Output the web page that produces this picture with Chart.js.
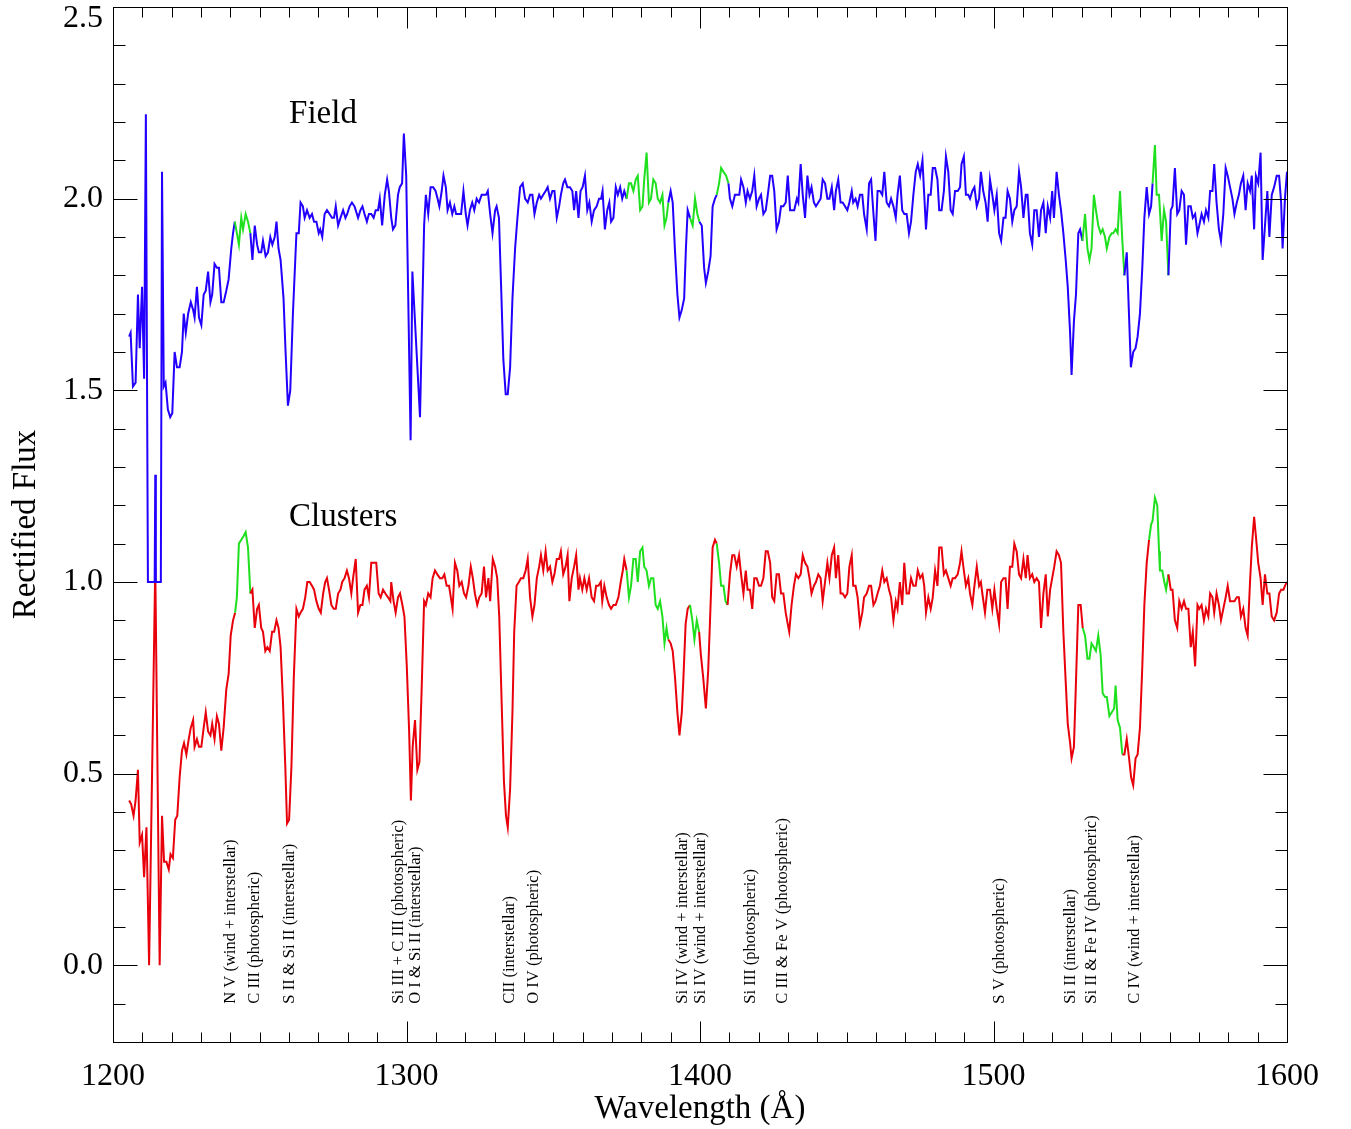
<!DOCTYPE html>
<html>
<head>
<meta charset="utf-8">
<title>Rectified Flux</title>
<script src="https://cdn.jsdelivr.net/npm/chart.js@4.4.1/dist/chart.umd.min.js"></script>
<style>
  body { margin: 0; background: #fff; }
  #wrap { width: 1351px; height: 1129px; }
</style>
</head>
<body>
<div id="wrap"><canvas id="spectrum"></canvas></div>
<script>
// Field spectrum (wavelength in Å, rectified flux)
const fieldWave = [
  1205.5, 1206.0, 1206.8, 1207.7, 1208.5, 1209.1, 1209.9, 1210.6, 1211.2, 1211.9,
  1214.2, 1214.4, 1214.6, 1216.3, 1216.7, 1217.3, 1217.9, 1218.7, 1219.5, 1220.2,
  1221.0, 1221.8, 1222.7, 1223.5, 1224.1, 1224.8, 1225.6, 1226.5, 1227.3, 1227.8,
  1228.6, 1229.3, 1230.1, 1230.9, 1231.6, 1232.4, 1233.2, 1233.8, 1234.6, 1235.4,
  1236.1, 1236.9, 1237.7, 1238.6, 1239.4, 1240.3, 1240.9, 1241.5, 1242.2, 1242.9,
  1243.7, 1244.3, 1245.2, 1246.0, 1246.8, 1247.5, 1248.3, 1249.1, 1249.7, 1250.5,
  1251.1, 1252.0, 1252.8, 1253.6, 1254.3, 1255.1, 1255.7, 1256.4, 1257.1, 1258.1,
  1258.8, 1259.6, 1260.4, 1261.3, 1262.5, 1263.3, 1263.9, 1264.7, 1265.3, 1266.1,
  1267.0, 1267.8, 1268.5, 1269.3, 1270.1, 1270.6, 1271.3, 1272.1, 1272.9, 1273.8,
  1274.6, 1275.3, 1275.9, 1276.7, 1277.5, 1278.4, 1279.2, 1279.8, 1280.6, 1281.4,
  1282.3, 1283.5, 1284.3, 1285.0, 1285.7, 1286.5, 1287.2, 1288.0, 1288.8, 1289.5,
  1290.3, 1290.9, 1291.7, 1292.6, 1293.4, 1294.0, 1294.8, 1295.4, 1296.2, 1297.1,
  1297.7, 1298.5, 1299.1, 1299.9, 1301.4, 1302.0, 1304.6, 1306.0, 1306.6, 1307.4,
  1308.2, 1309.1, 1309.9, 1310.6, 1311.2, 1312.0, 1312.6, 1313.4, 1314.0, 1314.8,
  1315.6, 1316.3, 1316.9, 1317.7, 1318.6, 1319.4, 1320.2, 1320.8, 1321.6, 1322.4,
  1323.1, 1323.9, 1324.7, 1325.6, 1326.4, 1327.1, 1327.7, 1328.5, 1329.3, 1330.2,
  1330.7, 1331.5, 1332.2, 1333.0, 1333.8, 1334.5, 1335.3, 1336.1, 1337.0, 1337.8,
  1338.7, 1339.6, 1340.4, 1341.3, 1342.1, 1342.9, 1343.6, 1344.4, 1345.2, 1345.8,
  1346.6, 1347.4, 1348.1, 1348.9, 1349.7, 1350.4, 1351.2, 1352.0, 1352.6, 1353.4,
  1354.0, 1354.8, 1355.7, 1356.5, 1357.1, 1357.8, 1358.6, 1359.3, 1360.0, 1360.8,
  1361.6, 1362.3, 1363.1, 1363.9, 1364.8, 1365.6, 1366.3, 1366.8, 1367.6, 1368.4,
  1369.1, 1369.7, 1370.5, 1371.3, 1372.0, 1372.8, 1373.5, 1374.2, 1375.0, 1375.8,
  1376.5, 1377.3, 1378.1, 1378.8, 1379.6, 1380.4, 1381.0, 1381.8, 1382.6, 1383.3,
  1384.1, 1384.9, 1385.6, 1386.4, 1387.2, 1387.9, 1388.6, 1389.2, 1390.0, 1390.7,
  1391.5, 1392.3, 1393.0, 1393.8, 1394.6, 1395.2, 1395.8, 1396.6, 1397.5, 1398.3,
  1399.1, 1399.8, 1400.6, 1401.4, 1402.0, 1402.8, 1403.6, 1404.3, 1405.1, 1405.7,
  1406.5, 1407.2, 1408.0, 1408.9, 1409.7, 1410.2, 1411.0, 1411.9, 1412.7, 1413.4,
  1414.0, 1414.8, 1415.6, 1416.2, 1417.0, 1417.8, 1418.5, 1419.3, 1420.1, 1420.8,
  1421.6, 1422.4, 1423.1, 1423.9, 1424.6, 1425.3, 1426.1, 1426.9, 1427.6, 1428.4,
  1429.2, 1429.9, 1430.7, 1431.5, 1432.1, 1433.0, 1433.5, 1434.3, 1435.0, 1435.8,
  1436.6, 1437.3, 1438.0, 1438.8, 1439.5, 1440.3, 1441.1, 1441.8, 1442.6, 1443.4,
  1444.1, 1444.9, 1445.7, 1446.3, 1447.1, 1447.9, 1448.6, 1449.4, 1450.2, 1450.9,
  1451.7, 1452.2, 1453.0, 1453.7, 1454.5, 1455.3, 1455.9, 1456.8, 1457.6, 1458.3,
  1459.1, 1459.8, 1460.5, 1461.3, 1462.1, 1462.8, 1463.6, 1464.4, 1465.1, 1465.9,
  1466.7, 1467.3, 1468.1, 1468.9, 1469.6, 1470.4, 1471.2, 1471.9, 1472.7, 1473.5,
  1474.2, 1475.0, 1475.8, 1476.4, 1477.0, 1477.8, 1478.6, 1479.3, 1480.1, 1480.9,
  1481.5, 1482.3, 1483.1, 1483.8, 1484.6, 1485.4, 1486.1, 1486.9, 1487.8, 1488.6,
  1489.1, 1489.9, 1490.6, 1491.4, 1492.0, 1492.8, 1493.5, 1494.3, 1495.1, 1495.7,
  1496.5, 1497.3, 1498.0, 1498.8, 1499.6, 1500.3, 1501.1, 1501.9, 1502.6, 1503.4,
  1504.1, 1504.8, 1505.6, 1506.4, 1507.1, 1507.9, 1508.7, 1509.4, 1510.2, 1511.0,
  1511.6, 1512.4, 1513.2, 1513.9, 1514.7, 1515.5, 1516.2, 1517.0, 1517.8, 1518.5,
  1519.3, 1520.0, 1520.6, 1521.5, 1522.3, 1523.0, 1523.8, 1524.6, 1525.3, 1526.1,
  1526.6, 1527.4, 1528.1, 1528.9, 1529.5, 1530.3, 1531.2, 1532.0, 1532.7, 1533.4,
  1534.2, 1534.9, 1535.7, 1536.5, 1537.2, 1538.0, 1538.6, 1539.5, 1540.3, 1540.8,
  1541.6, 1542.3, 1543.1, 1543.9, 1544.6, 1545.4, 1546.2, 1546.8, 1547.6, 1548.4,
  1549.1, 1549.9, 1550.7, 1551.4, 1552.2, 1553.0, 1553.7, 1554.2, 1555.0, 1555.6,
  1556.4, 1557.3, 1558.1, 1558.8, 1559.6, 1560.4, 1561.0, 1561.8, 1562.6, 1563.3,
  1564.1, 1564.9, 1565.6, 1566.4, 1567.2, 1567.9, 1568.7, 1569.5, 1570.1, 1570.9,
  1571.7, 1572.4, 1573.2, 1573.8, 1574.6, 1575.2, 1576.0, 1576.8, 1577.5, 1578.3,
  1579.1, 1579.8, 1580.6, 1581.4, 1582.1, 1582.9, 1583.6, 1584.3, 1585.1, 1585.9,
  1586.6, 1587.4, 1588.0, 1588.8, 1589.4, 1590.2, 1591.0, 1591.7, 1592.5, 1593.3,
  1594.0, 1594.8, 1595.6, 1596.5, 1597.3, 1598.0, 1598.5, 1599.3, 1600.0
]
const fieldFlux = [
  1.64, 1.65, 1.51, 1.52, 1.75, 1.61, 1.77, 1.53, 2.22, 1.00,
  1.00, 1.28, 1.00, 1.00, 2.07, 1.51, 1.52, 1.45, 1.43, 1.44,
  1.60, 1.56, 1.56, 1.60, 1.70, 1.65, 1.70, 1.73, 1.71, 1.69,
  1.77, 1.69, 1.67, 1.75, 1.76, 1.81, 1.73, 1.75, 1.83, 1.82,
  1.82, 1.73, 1.73, 1.76, 1.79, 1.87, 1.91, 1.94, 1.91, 1.88,
  1.95, 1.92, 1.96, 1.94, 1.91, 1.84, 1.93, 1.88, 1.86, 1.86,
  1.89, 1.85, 1.86, 1.90, 1.88, 1.90, 1.94, 1.87, 1.84, 1.74,
  1.60, 1.46, 1.50, 1.70, 1.91, 1.91, 1.99, 1.98, 1.95, 1.97,
  1.95, 1.96, 1.94, 1.94, 1.91, 1.92, 1.90, 1.96, 1.97, 1.96,
  1.95, 1.95, 1.98, 1.93, 1.95, 1.97, 1.95, 1.96, 1.98, 1.99,
  1.98, 1.95, 1.97, 1.98, 1.96, 1.94, 1.96, 1.96, 1.95, 1.97,
  1.97, 2.00, 1.93, 2.01, 2.05, 2.02, 1.95, 1.92, 1.93, 2.01,
  2.03, 2.04, 2.17, 2.06, 1.37, 1.81, 1.43, 1.93, 2.01, 1.96,
  2.03, 2.03, 2.02, 2.00, 1.98, 2.02, 2.06, 2.03, 1.97, 1.99,
  1.96, 1.98, 1.96, 1.96, 1.96, 2.02, 1.96, 1.93, 1.97, 1.99,
  1.97, 2.00, 1.99, 2.01, 2.01, 2.01, 2.02, 1.96, 1.91, 1.97,
  1.98, 1.95, 1.78, 1.58, 1.49, 1.49, 1.56, 1.74, 1.87, 1.95,
  2.03, 2.04, 2.00, 1.99, 2.01, 2.01, 1.96, 1.99, 2.01, 2.00,
  2.01, 2.02, 2.03, 2.00, 2.02, 2.02, 1.95, 1.98, 2.01, 2.04,
  2.05, 2.03, 2.03, 2.02, 1.97, 2.02, 1.95, 2.02, 2.03, 2.06,
  1.97, 1.99, 1.94, 1.97, 1.98, 2.00, 2.00, 2.02, 1.92, 1.97,
  1.99, 1.94, 1.95, 2.03, 2.01, 2.03, 2.00, 2.02, 2.00, 2.04,
  2.04, 2.02, 2.05, 2.06, 1.97, 1.98, 2.05, 2.12, 1.99, 2.00,
  2.05, 2.04, 2.00, 1.99, 2.01, 1.93, 1.95, 1.99, 2.02, 1.99,
  1.86, 1.75, 1.69, 1.71, 1.74, 1.87, 1.97, 1.95, 1.93, 2.00,
  1.96, 1.94, 1.93, 1.82, 1.78, 1.81, 1.85, 1.98, 2.00, 2.01,
  2.04, 2.08, 2.07, 2.06, 2.04, 2.00, 1.98, 2.01, 2.01, 2.01,
  2.05, 2.03, 1.99, 2.02, 2.00, 2.02, 2.06, 1.98, 2.00, 2.01,
  1.96, 1.97, 2.01, 2.06, 2.06, 2.02, 1.92, 1.94, 1.98, 1.98,
  1.99, 2.06, 1.97, 1.97, 1.97, 2.00, 1.99, 2.09, 2.01, 1.95,
  2.06, 2.01, 2.03, 1.99, 1.98, 1.99, 2.00, 2.05, 2.04, 2.00,
  2.00, 2.03, 1.97, 2.02, 2.05, 1.99, 1.99, 1.98, 1.97, 1.99,
  2.02, 1.99, 2.00, 1.98, 2.01, 2.01, 1.96, 1.92, 2.04, 2.05,
  1.96, 1.89, 2.02, 2.02, 2.01, 2.07, 1.99, 1.98, 2.00, 1.98,
  1.95, 2.01, 2.06, 1.97, 1.96, 1.96, 1.91, 1.94, 2.01, 2.07,
  2.09, 2.06, 2.10, 2.01, 1.92, 2.01, 2.01, 2.08, 2.08, 2.05,
  1.97, 1.97, 2.02, 2.11, 2.07, 1.97, 1.96, 2.02, 2.02, 2.03,
  2.09, 2.11, 2.01, 2.01, 2.00, 2.02, 2.03, 1.98, 2.00, 2.07,
  2.02, 1.99, 1.94, 2.05, 2.01, 1.97, 2.01, 1.91, 1.89, 1.95,
  1.95, 2.02, 2.00, 1.94, 1.97, 1.98, 2.07, 2.03, 1.95, 2.01,
  2.01, 1.91, 1.88, 1.97, 1.97, 1.90, 1.97, 1.99, 1.91, 1.98,
  1.95, 2.02, 1.95, 2.07, 2.01, 1.97, 1.91, 1.84, 1.77, 1.65,
  1.54, 1.68, 1.75, 1.91, 1.92, 1.89, 1.96, 1.87, 1.84, 1.87,
  2.01, 1.97, 1.93, 1.91, 1.92, 1.90, 1.87, 1.90, 1.91, 1.91,
  1.92, 1.91, 2.02, 1.89, 1.80, 1.86, 1.69, 1.56, 1.60, 1.61,
  1.64, 1.70, 1.82, 1.95, 2.03, 1.96, 1.98, 2.04, 2.14, 2.01,
  2.01, 1.89, 1.97, 1.94, 1.80, 1.97, 1.98, 2.08, 1.96, 1.97,
  2.02, 2.01, 1.88, 1.98, 1.98, 1.95, 1.96, 1.91, 1.93, 1.96,
  1.94, 1.97, 1.95, 2.02, 2.02, 2.09, 1.99, 1.92, 1.89, 1.96,
  2.08, 2.06, 2.03, 2.00, 1.96, 1.99, 2.01, 2.04, 2.06, 1.97,
  2.04, 2.02, 2.06, 1.92, 2.06, 2.04, 2.12, 1.84, 1.93, 2.02,
  1.90, 2.01, 2.03, 2.06, 2.06, 1.99, 1.87, 2.00, 2.07
]

// Clusters spectrum
const clusterWave = [
  1205.5, 1206.2, 1207.0, 1207.7, 1208.5, 1209.1, 1209.9, 1210.6, 1211.4, 1212.3,
  1214.4, 1215.9, 1216.7, 1217.4, 1218.2, 1219.0, 1219.6, 1220.4, 1221.2, 1221.9,
  1222.7, 1223.5, 1224.2, 1225.0, 1225.8, 1226.5, 1227.3, 1227.8, 1228.6, 1229.3,
  1230.1, 1230.9, 1231.6, 1232.4, 1233.2, 1233.8, 1234.6, 1235.4, 1236.1, 1236.9,
  1237.7, 1238.6, 1239.4, 1240.1, 1240.9, 1241.6, 1242.2, 1242.9, 1243.7, 1244.5,
  1245.2, 1246.0, 1246.8, 1247.5, 1248.3, 1249.1, 1249.7, 1250.5, 1251.1, 1251.9,
  1252.6, 1253.4, 1254.2, 1254.9, 1255.7, 1256.4, 1257.1, 1257.9, 1258.7, 1259.3,
  1260.0, 1260.8, 1261.6, 1262.5, 1263.3, 1263.9, 1264.7, 1265.5, 1266.2, 1267.0,
  1267.8, 1268.5, 1269.3, 1270.1, 1270.8, 1271.6, 1272.3, 1272.9, 1273.6, 1274.4,
  1275.2, 1275.9, 1276.7, 1277.5, 1278.1, 1278.9, 1279.7, 1280.4, 1281.2, 1281.8,
  1282.7, 1283.5, 1284.3, 1285.0, 1285.7, 1286.5, 1287.2, 1288.0, 1288.8, 1289.7,
  1290.5, 1291.2, 1292.0, 1292.8, 1293.7, 1294.5, 1294.8, 1295.6, 1296.3, 1297.1,
  1297.8, 1298.6, 1299.3, 1300.1, 1300.9, 1301.5, 1302.1, 1302.9, 1303.7, 1304.4,
  1305.2, 1306.0, 1306.6, 1307.4, 1308.2, 1308.9, 1309.7, 1310.5, 1311.4, 1312.2,
  1312.9, 1313.7, 1314.5, 1315.1, 1315.7, 1316.5, 1317.3, 1318.0, 1318.8, 1319.6,
  1320.3, 1321.1, 1321.9, 1322.6, 1323.3, 1324.1, 1324.8, 1325.6, 1326.4, 1327.1,
  1327.9, 1328.5, 1329.4, 1330.2, 1330.9, 1331.6, 1332.4, 1333.2, 1333.9, 1334.5,
  1335.3, 1336.1, 1336.7, 1337.5, 1338.3, 1339.0, 1339.8, 1340.6, 1341.3, 1342.1,
  1342.9, 1343.6, 1344.4, 1345.2, 1345.8, 1346.6, 1347.4, 1348.1, 1348.9, 1349.7,
  1350.4, 1351.2, 1352.0, 1352.6, 1353.4, 1354.2, 1354.9, 1355.5, 1356.3, 1357.1,
  1357.8, 1358.6, 1359.1, 1359.9, 1360.6, 1361.4, 1362.2, 1363.1, 1363.9, 1364.6,
  1365.4, 1366.2, 1366.7, 1367.4, 1368.2, 1369.0, 1369.7, 1370.5, 1371.3, 1372.2,
  1373.0, 1373.7, 1374.2, 1375.0, 1375.8, 1376.5, 1377.3, 1378.1, 1378.8, 1379.6,
  1380.4, 1381.0, 1381.8, 1382.6, 1383.3, 1384.1, 1384.9, 1385.6, 1386.4, 1387.2,
  1387.9, 1388.6, 1389.2, 1390.0, 1390.7, 1391.5, 1392.3, 1393.0, 1393.8, 1394.3,
  1395.1, 1395.8, 1396.6, 1397.4, 1398.1, 1398.9, 1399.7, 1400.3, 1401.1, 1402.0,
  1402.8, 1403.6, 1404.3, 1405.1, 1405.7, 1406.5, 1407.2, 1408.0, 1408.7, 1409.4,
  1410.2, 1411.0, 1411.7, 1412.5, 1413.3, 1414.0, 1414.8, 1415.6, 1416.2, 1417.0,
  1417.8, 1418.5, 1419.3, 1420.1, 1420.8, 1421.6, 1422.4, 1423.1, 1423.9, 1424.6,
  1425.3, 1426.1, 1426.9, 1427.6, 1428.4, 1429.2, 1429.9, 1430.4, 1431.2, 1432.0,
  1432.7, 1433.5, 1434.3, 1435.0, 1435.8, 1436.6, 1437.3, 1438.0, 1438.8, 1439.5,
  1440.3, 1441.1, 1441.8, 1442.6, 1443.4, 1444.1, 1444.9, 1445.7, 1446.3, 1447.1,
  1447.9, 1448.6, 1449.4, 1450.2, 1450.9, 1451.7, 1452.2, 1453.0, 1453.7, 1454.5,
  1455.3, 1455.9, 1456.8, 1457.6, 1458.3, 1459.1, 1459.8, 1460.5, 1461.3, 1462.1,
  1462.8, 1463.6, 1464.4, 1465.1, 1465.9, 1466.7, 1467.3, 1468.1, 1468.9, 1469.6,
  1470.4, 1471.2, 1471.9, 1472.7, 1473.5, 1474.2, 1475.0, 1475.8, 1476.4, 1477.0,
  1477.8, 1478.6, 1479.3, 1480.1, 1480.9, 1481.5, 1482.3, 1483.1, 1483.8, 1484.6,
  1485.4, 1486.1, 1486.9, 1487.8, 1488.6, 1489.1, 1489.9, 1490.6, 1491.4, 1492.0,
  1492.8, 1493.5, 1494.3, 1495.1, 1495.7, 1496.2, 1497.1, 1497.9, 1498.8, 1499.6,
  1500.3, 1501.1, 1501.9, 1502.6, 1503.4, 1504.1, 1504.8, 1505.6, 1506.4, 1507.1,
  1507.9, 1508.7, 1509.4, 1510.2, 1511.0, 1511.6, 1512.4, 1513.2, 1513.9, 1514.7,
  1515.5, 1516.2, 1517.0, 1517.8, 1518.5, 1519.3, 1520.0, 1520.7, 1521.5, 1522.3,
  1523.0, 1523.8, 1524.6, 1525.3, 1526.1, 1526.6, 1527.4, 1528.1, 1528.9, 1529.7,
  1530.4, 1531.2, 1532.0, 1532.7, 1533.4, 1534.2, 1534.9, 1535.7, 1536.5, 1537.2,
  1538.0, 1538.6, 1539.5, 1540.3, 1541.1, 1541.6, 1542.3, 1543.1, 1543.9, 1544.6,
  1545.4, 1546.2, 1546.9, 1547.6, 1548.4, 1549.1, 1549.9, 1550.7, 1551.4, 1552.2,
  1553.0, 1553.7, 1554.2, 1555.0, 1555.8, 1556.4, 1556.7, 1557.5, 1558.2, 1558.8,
  1559.6, 1560.4, 1561.0, 1561.8, 1562.6, 1563.3, 1564.1, 1564.9, 1565.6, 1566.4,
  1567.2, 1567.9, 1568.7, 1569.5, 1570.1, 1570.9, 1571.7, 1572.4, 1573.2, 1573.8,
  1574.6, 1575.2, 1576.0, 1576.8, 1577.5, 1578.3, 1579.1, 1579.8, 1580.6, 1581.4,
  1582.1, 1582.9, 1583.6, 1584.3, 1585.1, 1585.9, 1586.6, 1587.4, 1588.0, 1588.8,
  1589.4, 1590.2, 1591.0, 1591.7, 1592.5, 1593.3, 1594.0, 1594.8, 1595.6, 1596.5,
  1597.3, 1598.0, 1598.8, 1599.3, 1600.0
]
const clusterFlux = [
  0.43, 0.42, 0.39, 0.43, 0.51, 0.32, 0.34, 0.23, 0.36, 0.00,
  1.04, 0.00, 0.39, 0.27, 0.27, 0.25, 0.29, 0.28, 0.38, 0.39,
  0.49, 0.56, 0.58, 0.55, 0.59, 0.62, 0.64, 0.57, 0.59, 0.57,
  0.57, 0.62, 0.66, 0.61, 0.60, 0.63, 0.59, 0.65, 0.63, 0.56,
  0.62, 0.72, 0.76, 0.86, 0.90, 0.92, 0.96, 1.10, 1.11, 1.12,
  1.13, 1.09, 0.97, 0.98, 0.88, 0.93, 0.94, 0.88, 0.87, 0.82,
  0.83, 0.82, 0.87, 0.87, 0.90, 0.88, 0.83, 0.69, 0.52, 0.37,
  0.38, 0.52, 0.75, 0.93, 0.91, 0.92, 0.93, 0.96, 1.00, 1.00,
  0.99, 0.98, 0.95, 0.93, 0.92, 0.97, 1.00, 1.01, 0.98, 0.94,
  0.93, 0.93, 0.97, 0.98, 1.00, 1.01, 1.03, 1.01, 0.97, 1.01,
  1.06, 0.92, 0.94, 0.94, 0.98, 0.99, 0.96, 1.05, 1.05, 1.05,
  0.97, 0.96, 0.98, 0.97, 0.96, 0.95, 1.00, 0.95, 0.92, 0.96,
  0.97, 0.94, 0.91, 0.78, 0.61, 0.43, 0.57, 0.64, 0.51, 0.53,
  0.73, 0.95, 0.94, 0.97, 0.96, 1.01, 1.03, 1.02, 1.01, 1.01,
  1.02, 0.99, 0.99, 0.96, 0.93, 1.05, 1.03, 0.99, 1.00, 0.97,
  0.96, 0.99, 1.04, 1.01, 0.97, 0.94, 0.96, 0.97, 1.04, 0.96,
  1.01, 0.95, 1.06, 1.04, 1.01, 0.91, 0.69, 0.48, 0.39, 0.36,
  0.46, 0.66, 0.87, 0.99, 1.00, 1.01, 1.01, 1.03, 1.06, 0.96,
  0.91, 0.94, 1.01, 1.04, 1.07, 1.03, 1.08, 1.03, 1.04, 1.00,
  1.02, 1.06, 1.06, 1.08, 1.02, 1.04, 1.07, 0.95, 1.01, 1.04,
  1.07, 0.98, 1.01, 0.98, 1.01, 0.98, 1.01, 0.96, 0.95, 0.99,
  0.99, 1.00, 0.95, 0.99, 0.96, 0.94, 0.93, 0.94, 0.94, 0.96,
  1.00, 1.03, 1.06, 1.03, 0.96, 0.99, 1.06, 1.06, 1.00, 1.08,
  1.09, 1.04, 1.03, 0.99, 1.01, 1.01, 0.94, 0.93, 0.95, 0.91,
  0.84, 0.88, 0.85, 0.84, 0.82, 0.75, 0.66, 0.60, 0.66, 0.74,
  0.89, 0.93, 0.94, 0.90, 0.85, 0.90, 0.87, 0.81, 0.75, 0.67,
  0.77, 0.94, 1.09, 1.11, 1.10, 1.05, 0.99, 0.99, 0.95, 0.94,
  1.02, 1.07, 1.07, 1.04, 1.07, 1.02, 0.97, 1.03, 0.98, 0.98,
  0.93, 1.01, 1.01, 0.99, 0.99, 1.01, 1.08, 1.08, 1.05, 0.96,
  0.95, 1.02, 1.02, 0.97, 0.97, 0.92, 0.89, 0.87, 0.94, 0.99,
  1.02, 1.01, 1.02, 1.07, 1.05, 1.04, 1.01, 0.97, 0.99, 1.00,
  1.02, 1.01, 0.95, 1.00, 1.05, 1.01, 1.07, 1.09, 1.01, 1.07,
  0.97, 0.97, 0.96, 0.97, 1.04, 1.07, 0.99, 0.99, 0.96, 0.89,
  0.92, 0.96, 0.97, 0.99, 0.99, 0.94, 0.95, 0.97, 0.99, 1.03,
  1.00, 1.01, 0.98, 0.96, 0.90, 0.95, 0.93, 1.00, 0.94, 1.05,
  0.97, 0.97, 1.01, 0.99, 0.99, 1.03, 1.01, 1.02, 0.99, 0.92,
  0.96, 0.93, 0.96, 1.03, 0.99, 1.09, 1.09, 1.02, 1.03, 1.01,
  0.99, 1.01, 1.01, 1.02, 1.05, 1.08, 1.03, 0.99, 1.01, 0.97,
  0.94, 0.99, 1.04, 0.99, 1.00, 0.97, 0.92, 0.98, 0.98, 0.93,
  0.98, 0.93, 0.89, 1.00, 1.01, 1.01, 0.93, 1.04, 1.04, 1.10,
  1.08, 1.02, 1.01, 1.06, 1.01, 1.07, 1.01, 1.02, 1.00, 1.01,
  1.00, 0.88, 0.97, 1.02, 0.91, 0.98, 1.01, 1.04, 1.08, 1.07,
  1.05, 0.87, 0.74, 0.63, 0.58, 0.54, 0.57, 0.74, 0.94, 0.94,
  0.88, 0.86, 0.80, 0.80, 0.84, 0.83, 0.82, 0.86, 0.81, 0.71,
  0.70, 0.70, 0.65, 0.66, 0.67, 0.73, 0.64, 0.62, 0.55, 0.55,
  0.59, 0.54, 0.49, 0.47, 0.54, 0.55, 0.62, 0.78, 0.94, 1.05,
  1.11, 1.15, 1.16, 1.22, 1.20, 1.08, 1.03, 1.03, 1.00, 0.98,
  1.02, 0.98, 0.98, 0.90, 0.88, 0.95, 0.93, 0.95, 0.93, 0.93,
  0.83, 0.87, 0.78, 0.94, 0.93, 0.94, 0.90, 0.93, 0.91, 0.97,
  0.96, 0.92, 0.97, 0.94, 0.90, 0.93, 0.96, 0.99, 0.95, 0.95,
  0.95, 0.96, 0.96, 0.91, 0.93, 0.88, 0.86, 1.00, 1.09, 1.17,
  1.12, 1.05, 1.01, 0.94, 1.02, 0.97, 0.97, 0.91, 0.90, 0.92,
  0.97, 0.98, 0.98, 0.99, 1.00
]

// wavelength windows drawn in green
const fieldGreen = [[1241.5, 1246.8], [1375.0, 1389.2], [1396.6, 1399.8], [1405.7, 1409.7], [1530.3, 1544.6], [1554.2, 1559.6]]
const clusterGreen = [[1241.6, 1246.8], [1375.0, 1389.2], [1396.6, 1399.7], [1405.7, 1409.4], [1530.4, 1543.9], [1553.0, 1559.6]]

// axis ticks
const xTicks = [1200, 1300, 1400, 1500, 1600]
const yTicks = [0.0, 0.5, 1.0, 1.5, 2.0, 2.5]

// line identifications, written upward along the bottom
const lineNames = [
  "N V (wind + interstellar)", "C III (photospheric)", "S II & Si II (interstellar)",
  "Si III + C III (photospheric)", "O I & Si II (interstellar)", "CII (interstellar)",
  "O IV (photospheric)", "Si IV (wind + interstellar)", "Si IV (wind + interstellar)",
  "Si III (photospheric)", "C III & Fe V (photospheric)", "S V (photospheric)",
  "Si II (interstellar)", "Si II & Fe IV (photospheric)", "C IV (wind + interstellar)"
]
const lineWaves = [1240.2, 1248.4, 1260.3, 1297.4, 1303.2, 1335.3, 1343.4, 1394.2, 1400.3, 1417.4, 1428.3, 1502.2, 1526.4, 1533.6, 1548.2]

const seriesNames = ["Field", "Clusters"]

const BLUE = "#2200ff"
const RED = "#e8000b"
const GREEN = "#1ee01e"
const serif = "'Liberation Serif', 'Times New Roman', serif"

Chart.defaults.font.family = serif
Chart.defaults.color = "#000"

function toPoints(w, f) {
  return w.map((x, i) => ({ x: x, y: f[i] }))
}

function segColor(ranges, base) {
  return (ctx) => {
    const a = ctx.p0.parsed.x
    const b = ctx.p1.parsed.x
    for (const r of ranges) {
      if (a >= r[0] - 0.01 && b <= r[1] + 0.01) return GREEN
    }
    return base
  }
}

// frame, inward ticks, y labels and the text annotations
const frameAndNotes = {
  id: "frameAndNotes",
  afterDatasetsDraw(chart) {
    const { ctx, chartArea: a, scales } = chart
    const x = scales.x
    const y = scales.y
    const L = Math.round(a.left) + 0.5
    const R = Math.round(a.right) + 0.5
    const T = Math.round(a.top) + 0.5
    const B = Math.round(a.bottom) + 0.5
    ctx.save()
    ctx.strokeStyle = "#000"
    ctx.lineWidth = 1
    ctx.strokeRect(L, T, R - L, B - T)

    ctx.beginPath()
    for (let v = 1200; v <= 1600; v += 10) {
      const px = Math.round(x.getPixelForValue(v)) + 0.5
      const len = xTicks.includes(v) ? 21 : 10
      ctx.moveTo(px, B); ctx.lineTo(px, B - len)
      ctx.moveTo(px, T); ctx.lineTo(px, T + len)
    }
    for (let i = -2; i <= 25; i++) {
      const v = i / 10
      const py = Math.round(y.getPixelForValue(v)) + 0.5
      const len = i % 5 === 0 ? 24 : 12
      ctx.moveTo(L, py); ctx.lineTo(L + len, py)
      ctx.moveTo(R, py); ctx.lineTo(R - len, py)
    }
    ctx.stroke()

    ctx.fillStyle = "#000"
    // y tick labels; the top one is kept inside the canvas
    ctx.font = "32px " + serif
    ctx.textAlign = "right"
    ctx.textBaseline = "middle"
    yTicks.forEach((v) => {
      const py = Math.max(y.getPixelForValue(v), a.top + 12)
      ctx.fillText(v.toFixed(1), a.left - 10, py)
    })

    ctx.font = "33px " + serif
    ctx.textAlign = "left"
    ctx.fillText(seriesNames[0], x.getPixelForValue(1260), y.getPixelForValue(2.22))
    ctx.fillText(seriesNames[1], x.getPixelForValue(1260), y.getPixelForValue(1.17))

    ctx.font = "16.5px " + serif
    const base = y.getPixelForValue(-0.1)
    lineNames.forEach((t, i) => {
      ctx.save()
      ctx.translate(x.getPixelForValue(lineWaves[i]), base)
      ctx.rotate(-Math.PI / 2)
      ctx.fillText(t, 0, 0)
      ctx.restore()
    })
    ctx.restore()
  }
}

new Chart(document.getElementById("spectrum"), {
  type: "line",
  data: {
    datasets: [
      {
        label: seriesNames[0],
        data: toPoints(fieldWave, fieldFlux),
        borderColor: BLUE,
        borderWidth: 2,
        pointRadius: 0,
        tension: 0,
        segment: { borderColor: segColor(fieldGreen, BLUE) },
      },
      {
        label: seriesNames[1],
        data: toPoints(clusterWave, clusterFlux),
        borderColor: RED,
        borderWidth: 2,
        pointRadius: 0,
        tension: 0,
        segment: { borderColor: segColor(clusterGreen, RED) },
      },
    ],
  },
  options: {
    responsive: true,
    maintainAspectRatio: false,
    animation: false,
    layout: { padding: { left: 0, right: 64, top: 7, bottom: 0 } },
    plugins: { legend: { display: false }, tooltip: { enabled: false } },
    scales: {
      x: {
        type: "linear",
        min: 1200,
        max: 1600,
        grid: { display: false },
        border: { display: false },
        afterBuildTicks: (s) => { s.ticks = xTicks.map((v) => ({ value: v })) },
        afterFit: (s) => { s.height = 87; s.paddingLeft = 0; s.paddingRight = 0 },
        ticks: {
          padding: 7,
          maxRotation: 0,
          autoSkip: false,
          font: { size: 32 },
          callback: (v) => String(v),
        },
        title: {
          display: true,
          text: "Wavelength (Å)",
          font: { size: 33 },
          padding: { top: 0, bottom: 0 },
        },
      },
      y: {
        min: -0.2,
        max: 2.5,
        grid: { display: false },
        border: { display: false },
        afterBuildTicks: (s) => { s.ticks = yTicks.map((v) => ({ value: v })) },
        afterFit: (s) => { s.width = 113; s.paddingTop = 0; s.paddingBottom = 0 },
        ticks: { display: false },
        title: {
          display: true,
          text: "Rectified Flux",
          font: { size: 33 },
          padding: { top: 7, bottom: 0 },
        },
      },
    },
  },
  plugins: [frameAndNotes],
})
</script>
</body>
</html>
